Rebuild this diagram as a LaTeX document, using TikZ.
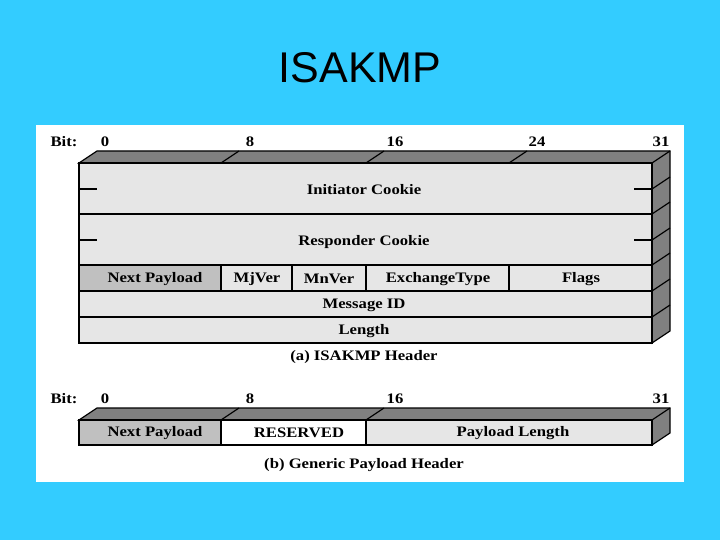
\documentclass[tikz,border=0pt]{standalone}
\usepackage{fontspec}
\setmainfont{Liberation Serif}
\newfontfamily\titlefont{Liberation Sans}
\definecolor{sky}{HTML}{33CCFF}
\definecolor{face}{HTML}{E6E6E6}
\definecolor{dark}{HTML}{808080}
\definecolor{mid}{HTML}{C0C0C0}
\begin{document}
\begin{tikzpicture}[x=1pt,y=-1pt,line width=1.2pt,
  lbl/.style={font=\bfseries\fontsize{14.5}{16}\selectfont,xscale=1.15,inner sep=0pt}]
\useasboundingbox (0,0) rectangle (720,540);
\fill[sky] (0,0) rectangle (720,540);
\fill[white] (36,125) rectangle (684,482);
\node[font=\titlefont\fontsize{43}{48}\selectfont] (title) at (360,68) {ISAKMP};
% ---- header (a)
\filldraw[fill=dark] (79,163) -- (97,151) -- (670,151) -- (670,331) -- (652,343) -- (652,163) -- cycle;
\draw (652,163) -- (670,151);
\foreach \x in {221,366,509} \draw (\x,163) -- (\x+18,151);
\foreach \y in {189,214,240,265,291,317} \draw (652,\y) -- (670,\y-12);
\filldraw[fill=face] (79,163) rectangle (652,343);
\fill[mid] (79,265) rectangle (221,291);
\draw (79,214) -- (652,214) (79,265) -- (652,265) (79,291) -- (652,291) (79,317) -- (652,317);
\draw (79,163) rectangle (652,343);
\draw (221,265) -- (221,291) (292,265) -- (292,291) (366,265) -- (366,291) (509,265) -- (509,291);
\draw (79,189) -- (97,189) (634,189) -- (652,189) (79,240) -- (97,240) (634,240) -- (652,240);
\node[lbl] (ic) at (364,190) {Initiator Cookie};
\node[lbl] (rc) at (364,242) {Responder Cookie};
\node[lbl] (np) at (155,279) {Next Payload};
\node[lbl] (mj) at (257,279) {MjVer};
\node[lbl] (mn) at (329,279) {MnVer};
\node[lbl] (ex) at (438,279) {ExchangeType};
\node[lbl] (fl) at (581,279) {Flags};
\node[lbl] (mid) at (364,305) {Message ID};
\node[lbl] (len) at (364,331) {Length};
\node[lbl] (capa) at (364,357) {(a) ISAKMP Header};
\node[lbl] (bita) at (64,142) {Bit:};
\node[lbl] (b0) at (105,142) {0};
\node[lbl] (b8) at (250,142) {8};
\node[lbl] (b16) at (395,142) {16};
\node[lbl] (b24) at (537,142) {24};
\node[lbl] (b31) at (661,142) {31};
% ---- header (b)
\filldraw[fill=dark] (79,420) -- (97,408) -- (670,408) -- (670,433) -- (652,445) -- (652,420) -- cycle;
\draw (652,420) -- (670,408);
\foreach \x in {221,366} \draw (\x,420) -- (\x+18,408);
\fill[mid] (79,420) rectangle (221,445);
\fill[white] (221,420) rectangle (366,445);
\fill[face] (366,420) rectangle (652,445);
\draw (79,420) rectangle (652,445) (221,420) -- (221,445) (366,420) -- (366,445);
\node[lbl] (np2) at (155,433) {Next Payload};
\node[lbl] (res) at (299,433) {RESERVED};
\node[lbl] (pl) at (513,433) {Payload Length};
\node[lbl] (capb) at (364,465) {(b) Generic Payload Header};
\node[lbl] (bitb) at (64,399) {Bit:};
\node[lbl] (c0) at (105,399) {0};
\node[lbl] (c8) at (250,399) {8};
\node[lbl] (c16) at (395,399) {16};
\node[lbl] (c31) at (661,399) {31};
\end{tikzpicture}
\end{document}
